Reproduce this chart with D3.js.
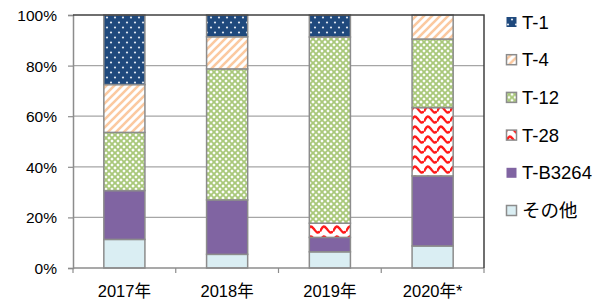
<!DOCTYPE html>
<html>
<head>
<meta charset="utf-8">
<script src="https://cdn.jsdelivr.net/npm/d3@7"></script>
<style>
  body { margin: 0; background: #fff; }
  text { font-family: "Liberation Sans", Arial, "Noto Sans CJK JP", sans-serif; fill: #000; }
</style>
</head>
<body>
<div id="chart"></div>
<script>
// data (percent share per year)
const years = ["2017年", "2018年", "2019年", "2020年*"];
const seriesNames = ["その他", "T-B3264", "T-28", "T-12", "T-4", "T-1"];   // bottom to top
const sonota  = [11.3, 5.4, 6.4, 8.7];
const tb3264  = [19.3, 21.5, 5.7, 27.7];
const t28     = [0, 0, 5.6, 27.0];
const t12     = [23.0, 51.8, 73.6, 27.1];
const t4      = [18.9, 12.7, 0, 9.5];
const t1      = [27.5, 8.6, 8.7, 0];
const yTicks  = [0, 20, 40, 60, 80, 100];
const legendOrder = ["T-1", "T-4", "T-12", "T-28", "T-B3264", "その他"];

const W = 601, H = 300;
const margin = {top: 15, right: 117, bottom: 32, left: 73};
const pw = W - margin.left - margin.right, ph = H - margin.top - margin.bottom;

let svg = d3.select("#chart").append("svg")
    .attr("width", W).attr("height", H);

// patterns
let defs = svg.append("defs");

// T-1: navy with white dots
let p1 = defs.append("pattern").attr("id", "p-t1").attr("patternUnits", "userSpaceOnUse")
    .attr("width", 8).attr("height", 10);
p1.append("rect").attr("width", 8).attr("height", 10).attr("fill", "#1F497D");
p1.append("circle").attr("cx", 2).attr("cy", 2.5).attr("r", 1.1).attr("fill", "#dfe6f0");
p1.append("circle").attr("cx", 6).attr("cy", 7.5).attr("r", 1.1).attr("fill", "#dfe6f0");

// T-4: light orange upward diagonals
let p4 = defs.append("pattern").attr("id", "p-t4").attr("patternUnits", "userSpaceOnUse")
    .attr("width", 8).attr("height", 8);
p4.append("rect").attr("width", 8).attr("height", 8).attr("fill", "#fff");
p4.append("path").attr("d", "M-2,2 L2,-2 M0,8 L8,0 M6,10 L10,6")
    .attr("stroke", "#FBC9A0").attr("stroke-width", 2.6);

// T-12: green lattice with white crosses
let p12 = defs.append("pattern").attr("id", "p-t12").attr("patternUnits", "userSpaceOnUse")
    .attr("width", 6).attr("height", 6);
p12.append("rect").attr("width", 6).attr("height", 6).attr("fill", "#fff");
p12.append("path").attr("d", "M0,0 L6,6 M6,0 L0,6")
    .attr("stroke", "#A9C87A").attr("stroke-width", 1.9);

// T-28: red waves
let p28 = defs.append("pattern").attr("id", "p-t28").attr("patternUnits", "userSpaceOnUse")
    .attr("width", 13).attr("height", 10);
p28.append("rect").attr("width", 13).attr("height", 10).attr("fill", "#fff");
p28.append("path").attr("d", "M0,6.5 C3,0.5 4,0.5 6.5,3.5 S10,9 13,6.5")
    .attr("fill", "none").attr("stroke", "#FF1A1A").attr("stroke-width", 2.4);

const fills = {
  "T-1": "url(#p-t1)", "T-4": "url(#p-t4)", "T-12": "url(#p-t12)",
  "T-28": "url(#p-t28)", "T-B3264": "#8064A2", "その他": "#DAEEF3"
};
const values = {"その他": sonota, "T-B3264": tb3264, "T-28": t28, "T-12": t12, "T-4": t4, "T-1": t1};

let g = svg.append("g").attr("transform", `translate(${margin.left}, ${margin.top})`);

let x = d3.scaleBand().domain(years).range([0, pw]).paddingInner(0.6).paddingOuter(0.3);
let xTick = d3.scaleBand().domain(years).range([0, pw]);
let y = d3.scaleLinear().domain([0, 100]).range([ph, 0]);

// gridlines
g.selectAll(".grid").data(yTicks.slice(1, -1)).enter().append("line")
    .attr("x1", 0).attr("x2", pw)
    .attr("y1", d => y(d)).attr("y2", d => y(d))
    .attr("stroke", "#A6A6A6").attr("stroke-width", 1.2);

// stacks
let rows = years.map((yr, i) => {
  let r = {year: yr};
  seriesNames.forEach(s => r[s] = values[s][i]);
  return r;
});
let stacked = d3.stack().keys(seriesNames)(rows);

stacked.forEach(layer => {
  g.selectAll(null).data(layer.filter(d => d[1] - d[0] > 0)).enter().append("rect")
      .attr("x", d => x(d.data.year))
      .attr("width", x.bandwidth())
      .attr("y", d => y(d[1]))
      .attr("height", d => y(d[0]) - y(d[1]))
      .attr("fill", fills[layer.key])
      .attr("stroke", "#8C8C8C").attr("stroke-width", 1.5);
});

// y axis
let yAxis = g.append("g")
    .call(d3.axisLeft(y).tickValues(yTicks).tickFormat(d => d + "%").tickSize(5).tickPadding(11));
yAxis.select(".domain").attr("stroke", "#8C8C8C").attr("stroke-width", 1.5);
yAxis.selectAll(".tick line").attr("stroke", "#8C8C8C").attr("stroke-width", 1.2);
yAxis.selectAll("text").style("font-size", "15.5px").attr("dy", "0.35em");

// x axis with ticks on band boundaries
let xg = g.append("g").attr("transform", `translate(0, ${ph})`);
xg.append("line").attr("x1", 0).attr("x2", pw).attr("stroke", "#8C8C8C").attr("stroke-width", 1.5);
let bounds = years.map(d => xTick(d)).concat([pw]);
xg.selectAll(".xt").data(bounds).enter().append("line")
    .attr("x1", d => d).attr("x2", d => d).attr("y1", 0).attr("y2", 5)
    .attr("stroke", "#8C8C8C").attr("stroke-width", 1.2);
xg.selectAll(".xl").data(years).enter().append("text")
    .attr("x", d => xTick(d) + xTick.bandwidth() / 2)
    .attr("y", 29)
    .attr("text-anchor", "middle")
    .style("font-size", "16.5px")
    .text(d => d);

// top and right frame
g.append("path").attr("d", `M0,0 H${pw} V${ph}`)
    .attr("fill", "none").attr("stroke", "#404040").attr("stroke-width", 1.5);

// legend
let leg = svg.append("g").attr("transform", "translate(506, 22)");
let li = leg.selectAll("g").data(legendOrder).enter().append("g")
    .attr("transform", (d, i) => `translate(0, ${i * 37.7})`);
li.append("rect").attr("x", 0.5).attr("y", -5).attr("width", 10).attr("height", 10)
    .attr("fill", d => fills[d])
    .attr("stroke", d => d === "T-1" || d === "T-B3264" ? "none" : "#8C8C8C").attr("stroke-width", 1.5);
li.append("text").attr("x", 16).attr("y", 0).attr("dy", "0.36em")
    .style("font-size", "18.5px")
    .text(d => d);
</script>
</body>
</html>
